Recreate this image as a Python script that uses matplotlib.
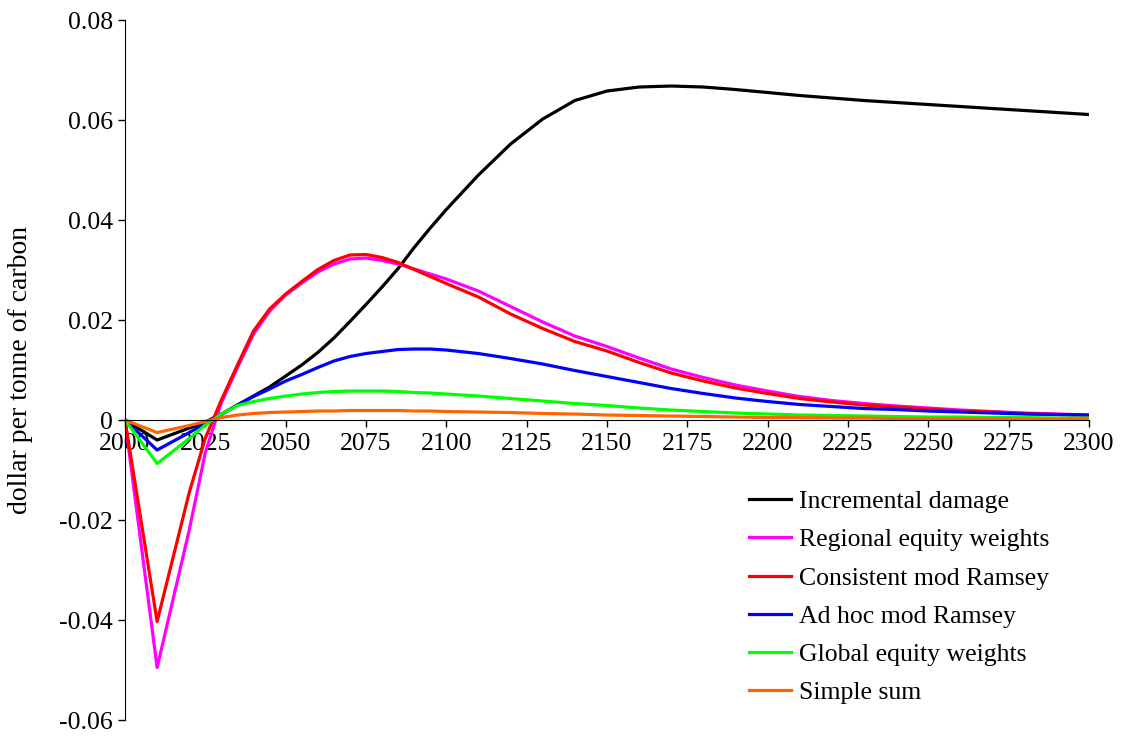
import matplotlib.pyplot as plt
from matplotlib.ticker import FuncFormatter

plt.rcParams['font.family'] = ['Liberation Serif', 'DejaVu Serif']
plt.rcParams['axes.unicode_minus'] = False

years = [2000, 2010, 2020, 2025, 2030, 2035, 2040, 2045,
         2050, 2055, 2060, 2065, 2070, 2075, 2080, 2085, 2090, 2095, 2100,
         2110, 2120, 2130, 2140, 2150, 2160, 2170, 2180, 2190, 2200,
         2210, 2220, 2230, 2240, 2250, 2260, 2270, 2280, 2290, 2300]

incremental = [0, -0.004, -0.0016, -0.0004, 0.0012,
               0.003, 0.0048, 0.0066, 0.0088, 0.011, 0.0135, 0.0164, 0.0197, 0.0231, 0.0266,
               0.0303, 0.0345, 0.0384, 0.0421, 0.049, 0.0552, 0.0602, 0.0639, 0.0658, 0.0666,
               0.0668, 0.0666, 0.0661, 0.0655, 0.0649, 0.0644, 0.0639, 0.0635, 0.0631, 0.0627,
               0.0623, 0.0619, 0.0615, 0.0611]
regional = [0, -0.0495, -0.022, -0.0065, 0.0035,
            0.0105, 0.0172, 0.0218, 0.0250, 0.0274, 0.0296, 0.0312, 0.0322, 0.0324, 0.0319,
            0.0312, 0.0302, 0.0292, 0.0282, 0.0258, 0.0227, 0.0196, 0.0168, 0.0147, 0.0124,
            0.0102, 0.0085, 0.007, 0.0058, 0.0047, 0.0039, 0.0033, 0.0028, 0.0024, 0.002,
            0.0017, 0.0014, 0.0012, 0.001]
consistent = [0, -0.0403, -0.0145, -0.0036, 0.004,
              0.011, 0.0178, 0.0222, 0.0252, 0.0277, 0.0301, 0.0319, 0.0330, 0.0331, 0.0325,
              0.0315, 0.0301, 0.0287, 0.0273, 0.0246, 0.0212, 0.0183, 0.0157, 0.0138, 0.0115,
              0.0094, 0.0078, 0.0064, 0.0053, 0.0043, 0.0036, 0.003, 0.0026, 0.0022, 0.0018,
              0.0016, 0.0013, 0.0011, 0.0009]
adhoc = [0, -0.006, -0.0025, -0.0007, 0.0011,
         0.003, 0.0047, 0.0062, 0.0078, 0.0091, 0.0105, 0.0118, 0.0127, 0.0133, 0.0137,
         0.0141, 0.0142, 0.0142, 0.014, 0.0133, 0.0123, 0.0112, 0.0099, 0.0087, 0.0075,
         0.0063, 0.0053, 0.0044, 0.0037, 0.0031, 0.0027, 0.0023, 0.0021, 0.0018, 0.0016,
         0.0014, 0.0012, 0.0011, 0.001]
glob = [0, -0.0087, -0.0037, -0.001, 0.0012,
        0.0029, 0.0037, 0.0043, 0.0048, 0.0052, 0.0055, 0.0057, 0.0058, 0.0058, 0.0058,
        0.0057, 0.0055, 0.0054, 0.0052, 0.0048, 0.0043, 0.0038, 0.0033, 0.0029, 0.0024,
        0.002, 0.0017, 0.0014, 0.0012, 0.001, 0.0009, 0.0008, 0.0007, 0.0006, 0.0006,
        0.0005, 0.0005, 0.0004, 0.0004]
simple = [0, -0.0025, -0.0011, -0.0003, 0.0005,
          0.001, 0.0013, 0.0015, 0.0016, 0.0017, 0.0018, 0.0018, 0.0019, 0.0019, 0.0019,
          0.0019, 0.0018, 0.0018, 0.0017, 0.0016, 0.0015, 0.0013, 0.0012, 0.001, 0.0009,
          0.0008, 0.0007, 0.0006, 0.0005, 0.0005, 0.0004, 0.0004, 0.0003, 0.0003, 0.0003,
          0.0003, 0.0002, 0.0002, 0.0002]

labels = ["Incremental damage", "Regional equity weights", "Consistent mod Ramsey",
          "Ad hoc mod Ramsey", "Global equity weights", "Simple sum"]
colours = ["#000000", "#FF00FF", "#FF0000", "#0000FF", "#00FF00", "#FF6600"]
series = [incremental, regional, consistent, adhoc, glob, simple]

fig = plt.figure(figsize=(11.23, 7.36), dpi=100)
ax = fig.add_axes([0.1113, 0.0217, 0.8584, 0.9511])

for vals, lab, col in zip(series, labels, colours):
    ax.plot(years, vals, color=col, lw=2.3, label=lab)

ax.set_xlim(2000, 2300)
ax.set_ylim(-0.06, 0.08)
ax.set_xticks(range(2000, 2301, 25))
ax.set_yticks([-0.06, -0.04, -0.02, 0, 0.02, 0.04, 0.06, 0.08])
ax.yaxis.set_major_formatter(FuncFormatter(lambda v, p: "0" if abs(v) < 1e-9 else f"{v:.2f}"))

ax.spines['top'].set_visible(False)
ax.spines['right'].set_visible(False)
ax.spines['bottom'].set_position(('data', 0))
ax.tick_params(axis='both', labelsize=18.5, length=5, width=1, direction='out')
ax.tick_params(axis='x', pad=4)

# y label placed by hand, as in the original
fig.text(21 / 1123, 1 - 370 / 736, "dollar per tonne of carbon", rotation=90,
         ha='center', va='center', fontsize=20)

ax.legend(loc='lower right', bbox_to_anchor=(0.955, 0.012), bbox_transform=fig.transFigure,
          frameon=False, fontsize=18.5, handlelength=1.65, handletextpad=0.3,
          labelspacing=0.59)

fig.savefig("out.png", dpi=100)
